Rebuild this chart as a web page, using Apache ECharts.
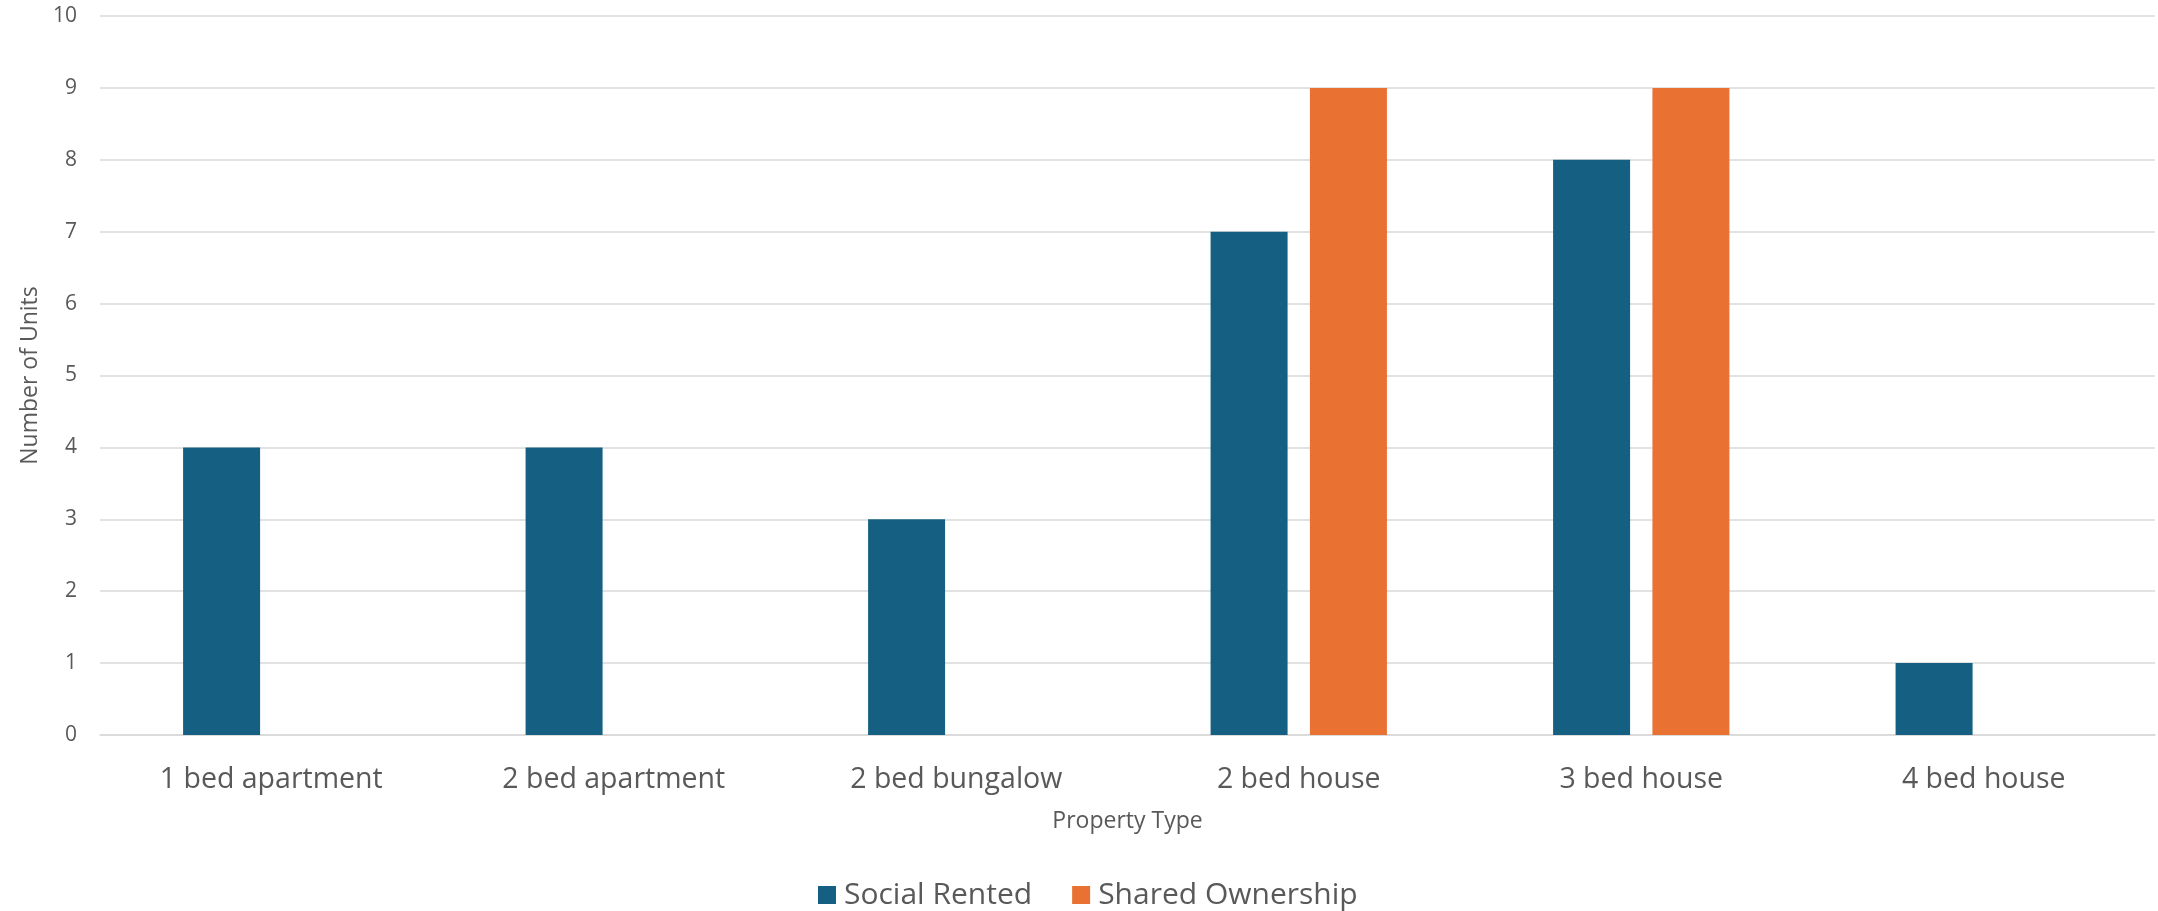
<!DOCTYPE html>
<html><head><meta charset="utf-8">
<script src="https://cdn.jsdelivr.net/npm/echarts@6/dist/echarts.min.js"></script>
<style>html,body{margin:0;padding:0;background:#fff}#c{width:2158px;height:911px}</style>
</head><body><div id="c"></div>
<script>
const categories = ['1 bed apartment','2 bed apartment','2 bed bungalow','2 bed house','3 bed house','4 bed house'];
const socialRented = [4,4,3,7,8,1];
const sharedOwnership = [null,null,null,9,9,null];
const seriesNames = ['Social Rented','Shared Ownership'];
const FONT = '"Open Sans", sans-serif';
const chart = echarts.init(document.getElementById('c'));
chart.setOption({
  backgroundColor:'#fff',
  animation:false,
  textStyle:{fontFamily:FONT},
  grid:{left:100,right:3,top:16,bottom:176,containLabel:false},
  legend:{
    data:seriesNames, top:875, left:813, icon:'rect', itemWidth:18, itemHeight:18, itemGap:40,
    textStyle:{fontSize:30,color:'#595959',fontFamily:FONT,padding:[0,0,0,3]}
  },
  xAxis:{
    type:'category', data:categories,
    axisLine:{show:true,lineStyle:{color:'#d9d9d9',width:1.5}},
    axisTick:{show:false},
    axisLabel:{fontSize:28.5,color:'#595959',margin:30,fontFamily:FONT},
    name:'Property Type', nameLocation:'middle', nameGap:75,
    nameTextStyle:{fontSize:23,color:'#595959',fontFamily:FONT}
  },
  yAxis:{
    type:'value', min:0, max:10, interval:1,
    axisLine:{show:false}, axisTick:{show:false},
    splitLine:{lineStyle:{color:'#d9d9d9',width:1.5}},
    axisLabel:{fontSize:21,color:'#595959',margin:23,fontFamily:FONT},
    name:'Number of Units', nameLocation:'middle', nameGap:58, nameRotate:90,
    nameTextStyle:{fontSize:23,color:'#595959',fontFamily:FONT}
  },
  series:[
    {name:seriesNames[0],type:'bar',data:socialRented,barWidth:77,barGap:'29%',itemStyle:{color:'#156082'}},
    {name:seriesNames[1],type:'bar',data:sharedOwnership,barWidth:77,barGap:'29%',itemStyle:{color:'#E97132'}}
  ]
});
</script></body></html>
